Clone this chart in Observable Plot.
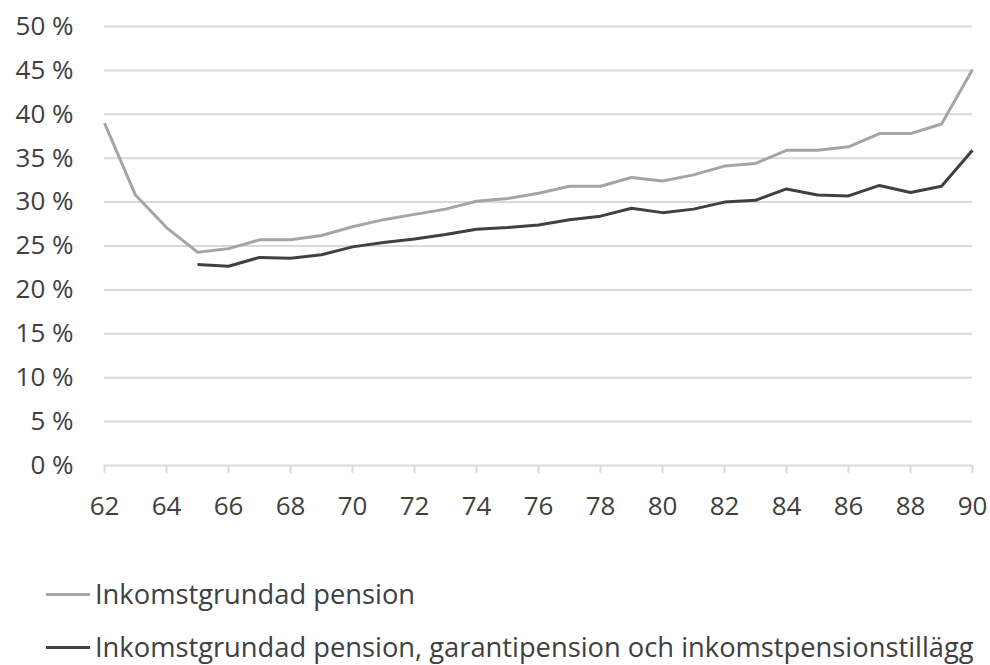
<!DOCTYPE html>
<html>
<head>
<meta charset="utf-8">
<script src="https://cdn.jsdelivr.net/npm/d3@7"></script>
<script src="https://cdn.jsdelivr.net/npm/@observablehq/plot@0.6"></script>
<style>
  html, body { margin: 0; padding: 0; background: #fff; }
  body { width: 990px; height: 665px; position: relative; overflow: hidden; font-family: "Open Sans", sans-serif; }
  #legend { position: absolute; left: 0; top: 568px; color: #404040; font-size: 27.3px; white-space: nowrap; line-height: 1.2; }
  .row { height: 53px; display: flex; align-items: center; }
  .sw { width: 44px; height: 3px; margin-left: 46px; margin-right: 5px; }
</style>
</head>
<body>
<div id="chart"></div>
<div id="legend"></div>
<script>
const ages = [62,63,64,65,66,67,68,69,70,71,72,73,74,75,76,77,78,79,80,81,82,83,84,85,86,87,88,89,90];
const inkomstgrundad = [39.0,30.8,27.1,24.3,24.7,25.7,25.7,26.2,27.2,28.0,28.6,29.2,30.1,30.4,31.0,31.8,31.8,32.8,32.4,33.1,34.1,34.4,35.9,35.9,36.3,37.8,37.8,38.9,45.1];
const totalt = [null,null,null,22.9,22.7,23.7,23.6,24.0,24.9,25.4,25.8,26.3,26.9,27.1,27.4,28.0,28.4,29.3,28.8,29.2,30.0,30.2,31.5,30.8,30.7,31.9,31.1,31.8,35.9];
const seriesNames = ["Inkomstgrundad pension", "Inkomstgrundad pension, garantipension och inkomstpensionstillägg"];
const seriesColors = ["#a5a5a5", "#404040"];
const yTicks = [0,5,10,15,20,25,30,35,40,45,50];
const xTicks = [62,64,66,68,70,72,74,76,78,80,82,84,86,88,90];

const rows = [];
ages.forEach((a, i) => {
  rows.push({age: a, value: inkomstgrundad[i], series: seriesNames[0]});
  if (totalt[i] != null) rows.push({age: a, value: totalt[i], series: seriesNames[1]});
});

const chart = Plot.plot({
  width: 990,
  height: 530,
  marginLeft: 104,
  marginRight: 18,
  marginTop: 26,
  marginBottom: 65,
  style: {fontFamily: "'Open Sans', sans-serif", fontSize: "26px", color: "#404040", background: "#fff"},
  x: {domain: [62, 90], label: null},
  y: {domain: [0, 50], label: null},
  color: {domain: seriesNames, range: seriesColors},
  marks: [
    Plot.ruleY(yTicks.filter(d => d > 0), {stroke: "#d9d9d9", strokeWidth: 2}),
    Plot.ruleY([0], {stroke: "#d9d9d9", strokeWidth: 2}),
    Plot.axisY({ticks: yTicks, label: null, tickSize: 0, tickPadding: 31, tickFormat: d => d + "\u00a0%", fontSize: 26, fill: "#404040"}),
    Plot.axisX({ticks: xTicks, label: null, tickSize: 8, tickPadding: 23, tickFormat: d => String(d), stroke: "#d9d9d9", strokeWidth: 2, fontSize: 26, fill: "#404040"}),
    Plot.line(rows, {x: "age", y: "value", z: "series", stroke: "series", strokeWidth: 3, strokeLinejoin: "miter", strokeLinecap: "butt"})
  ]
});
document.getElementById("chart").appendChild(chart);

const legend = document.getElementById("legend");
seriesNames.forEach((name, i) => {
  const row = document.createElement("div");
  row.className = "row";
  const sw = document.createElement("span");
  sw.className = "sw";
  sw.style.background = seriesColors[i];
  const label = document.createElement("span");
  label.textContent = name;
  row.appendChild(sw);
  row.appendChild(label);
  legend.appendChild(row);
});
</script>
</body>
</html>
